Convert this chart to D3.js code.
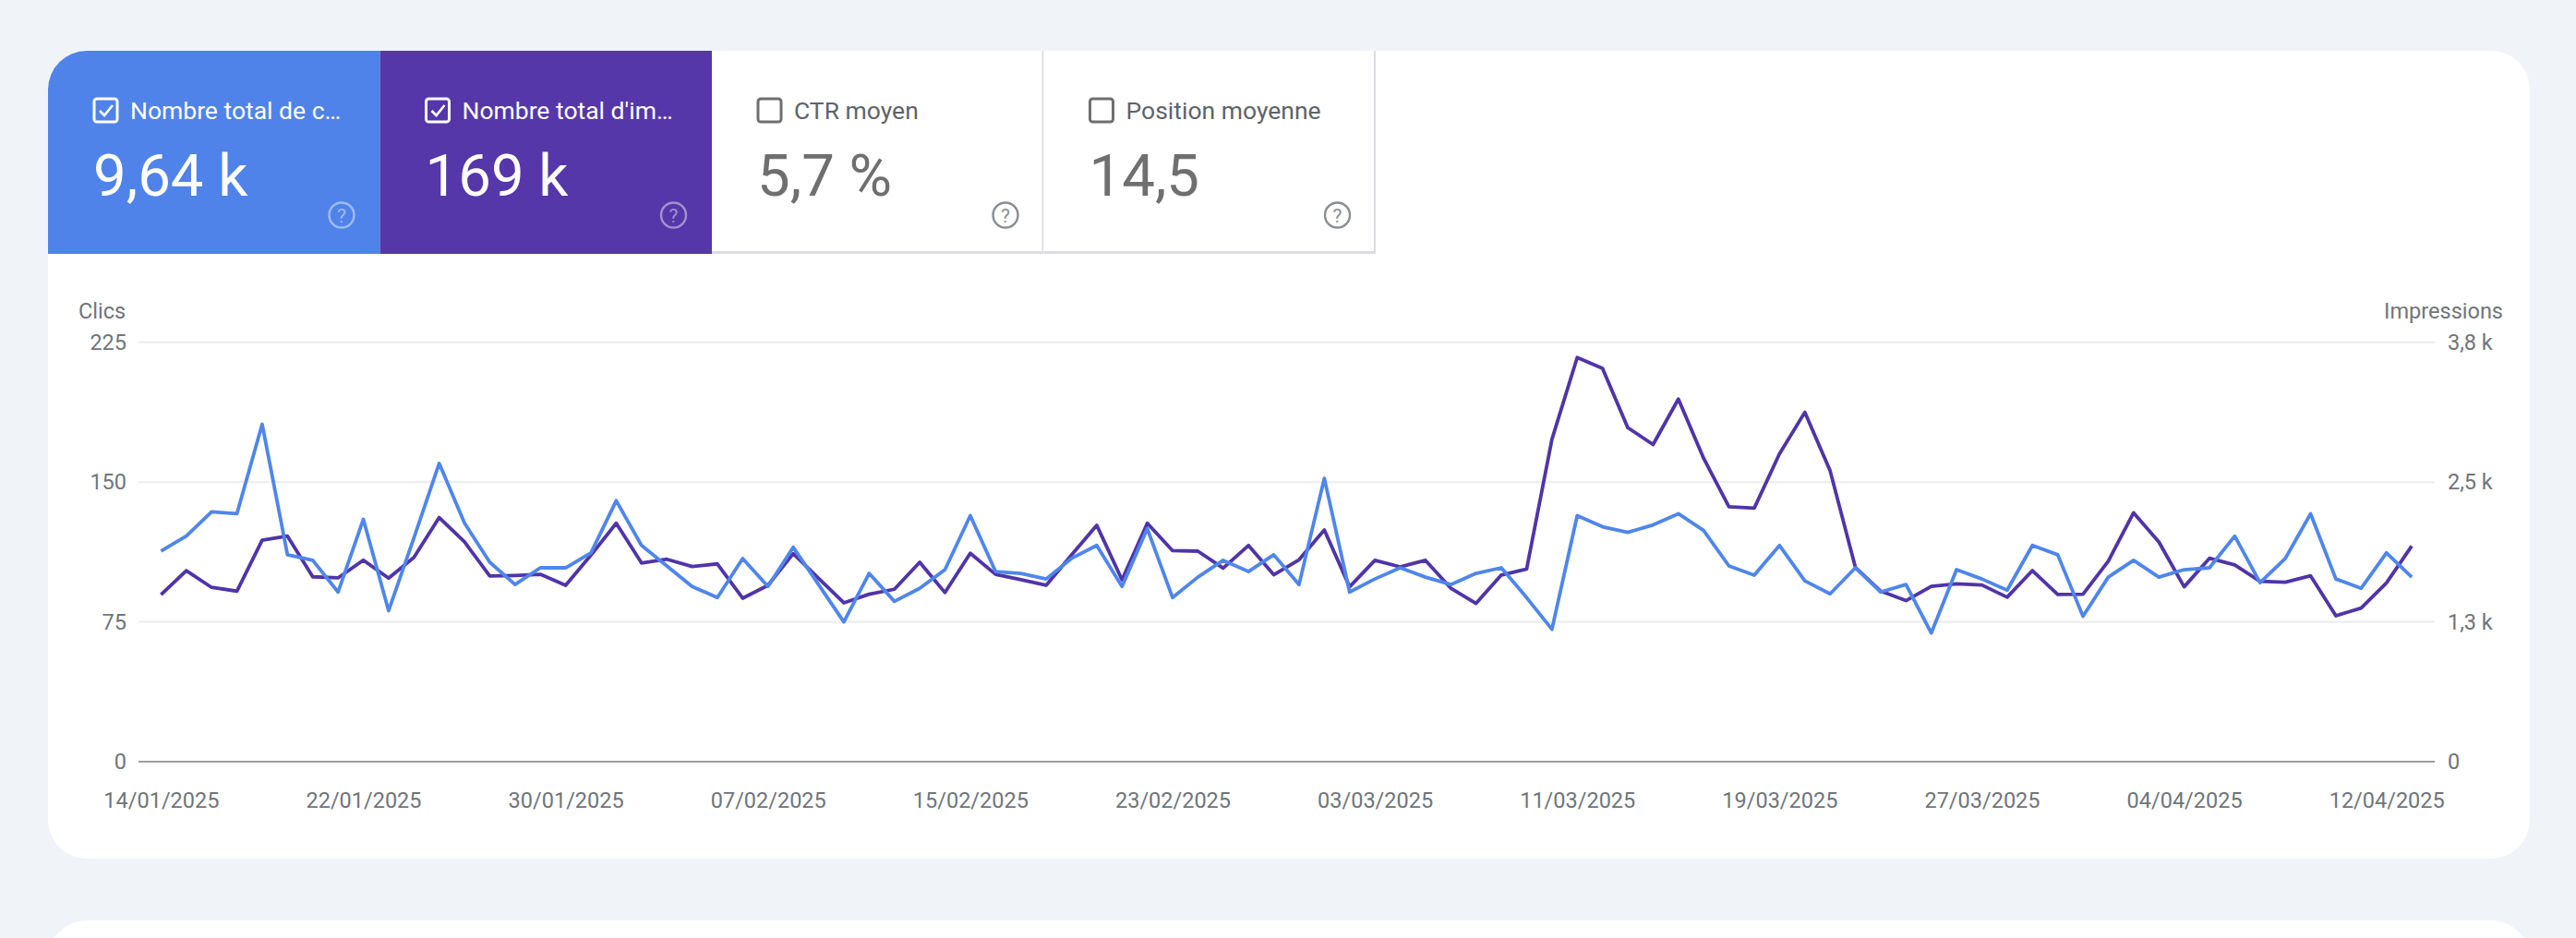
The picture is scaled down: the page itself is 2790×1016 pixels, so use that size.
<!DOCTYPE html>
<html>
<head>
<meta charset="utf-8">
<script src="https://cdn.jsdelivr.net/npm/d3@7"></script>
<style>
  html, body { margin: 0; padding: 0; background: #f0f4f9; }
  svg { display: block; font-family: Roboto, "Noto Sans", sans-serif; }
  .tick text { font-family: Roboto, sans-serif; }
</style>
</head>
<body>
<svg id="chart" width="2790" height="1016"></svg>
<script>
// summary tabs
const tabLabels = ["Nombre total de c…", "Nombre total d'im…", "CTR moyen", "Position moyenne"];
const tabValues = ["9,64 k", "169 k", "5,7 %", "14,5"];
const tabChecked = [true, true, false, false];

// daily series, 14/01/2025 -> 13/04/2025
const clicks = [113,121,134,133,181,111,108,91,130,81,
                120,160,128,107,95,104,104,112,140,116,
                105,94,88,109,94,115,95,75,101,86,
                93,103,132,102,101,98,109,116,94,125,
                88,99,108,102,111,95,152,91,98,104,
                99,95,101,104,88,71,132,126,123,127,
                133,124,105,100,116,97,90,104,91,95,
                69,103,98,92,116,111,78,99,108,99,
                103,104,121,96,109,133,98,93,112,99];
const impressions = [1512,1731,1579,1545,2006,2044,1675,1665,1826,1662,
                     1851,2212,1991,1682,1687,1697,1598,1871,2160,1800,
                     1834,1768,1792,1481,1598,1885,1662,1439,1517,1562,
                     1807,1532,1888,1697,1648,1598,1871,2142,1648,2160,
                     1912,1907,1753,1959,1693,1829,2099,1584,1824,1765,
                     1824,1572,1434,1691,1745,2920,3662,3564,3026,2873,
                     3285,2748,2310,2297,2790,3165,2636,1760,1545,1459,
                     1588,1611,1601,1490,1731,1515,1517,1816,2255,1991,
                     1584,1843,1782,1635,1626,1684,1322,1392,1620,1954];

// axes
const leftTicks = [0, 75, 150, 225];
const rightTicks = [0, 1266.67, 2533.33, 3800];
const rightTickLabels = ["0", "1,3 k", "2,5 k", "3,8 k"];
const xTickLabels = ["14/01/2025","22/01/2025","30/01/2025","07/02/2025","15/02/2025","23/02/2025",
                     "03/03/2025","11/03/2025","19/03/2025","27/03/2025","04/04/2025","12/04/2025"];

const BLUE = "#5083ea", PURPLE = "#5537a9";
const GREY = "#70757a";

const svg = d3.select("#chart");
const parse = d3.utcParse("%d/%m/%Y");
const days = d3.utcDay.range(Date.UTC(2025, 0, 14), Date.UTC(2025, 3, 14));

// card
const card = {x: 52, y: 55, w: 2688, h: 875, r: 42};
svg.append("rect").attr("x", card.x).attr("y", 997).attr("width", card.w).attr("height", 200)
  .attr("rx", card.r).attr("fill", "#fff");
svg.append("defs").append("clipPath").attr("id", "cardClip")
  .append("rect").attr("x", card.x).attr("y", card.y).attr("width", card.w).attr("height", card.h).attr("rx", card.r);
svg.append("rect").attr("x", card.x).attr("y", card.y).attr("width", card.w).attr("height", card.h)
  .attr("rx", card.r).attr("fill", "#fff");

// tabs
const tabW = 359.5, tabH = 220;
const tabs = svg.append("g").attr("clip-path", "url(#cardClip)");
tabLabels.forEach((label, i) => {
  const x0 = card.x + i * tabW;
  const on = tabChecked[i];
  const fill = i === 0 ? BLUE : (i === 1 ? PURPLE : "#fff");
  const fg = on ? "#fff" : "#5f6368";
  const g = tabs.append("g").attr("transform", `translate(${x0},${card.y})`);
  g.append("rect").attr("width", tabW).attr("height", tabH).attr("fill", fill);
  if (!on) {
    g.append("line").attr("x1", tabW - 1).attr("x2", tabW - 1).attr("y1", 0).attr("y2", tabH)
      .attr("stroke", "#dadce0").attr("stroke-width", 2);
    g.append("line").attr("x1", 0).attr("x2", tabW).attr("y1", tabH - 1.5).attr("y2", tabH - 1.5)
      .attr("stroke", "#dadce0").attr("stroke-width", 3);
  }
  // checkbox
  g.append("rect").attr("x", 50).attr("y", 52).attr("width", 25).attr("height", 25).attr("rx", 3)
    .attr("fill", "none").attr("stroke", on ? "#fff" : "#6f6f6f").attr("stroke-width", 3);
  if (on) {
    g.append("path").attr("d", "M56,65 L61,70 L70,59").attr("fill", "none")
      .attr("stroke", "#fff").attr("stroke-width", 2.6);
  }
  g.append("text").attr("x", 89).attr("y", 74).attr("font-size", 26.5).attr("fill", fg).text(label);
  g.append("text").attr("x", 49).attr("y", 157).attr("font-size", 63.5).attr("fill", on ? "#fff" : "#6f6f6f")
    .text(tabValues[i]);
  // help icon
  const hc = on ? "rgba(255,255,255,0.45)" : "#8a8d91";
  g.append("circle").attr("cx", 318).attr("cy", 178).attr("r", 13.5).attr("fill", "none")
    .attr("stroke", hc).attr("stroke-width", 2.4);
  g.append("text").attr("x", 318).attr("y", 186).attr("text-anchor", "middle").attr("font-size", 21)
    .attr("fill", hc).text("?");
});

// plot
const plot = {left: 150, right: 2637, top: 370.7, bottom: 825};
const x = d3.scaleUtc().domain([days[0], days[days.length - 1]])
  .range([174.4, 174.4 + 27.39 * (days.length - 1)]);
const yL = d3.scaleLinear().domain([0, 225]).range([plot.bottom, plot.top]);
const yR = d3.scaleLinear().domain([0, 3800]).range([plot.bottom, plot.top]);

svg.append("g").selectAll("line").data(leftTicks).join("line")
  .attr("x1", plot.left).attr("x2", plot.right)
  .attr("y1", d => yL(d)).attr("y2", d => yL(d))
  .attr("stroke", d => d === 0 ? "#9e9e9e" : "#ececec").attr("stroke-width", 2);

const axisStyle = g => {
  g.select(".domain").remove();
  g.selectAll(".tick line").remove();
  g.selectAll(".tick text").attr("fill", GREY).attr("font-size", 23.5);
};

svg.append("g").attr("transform", `translate(${plot.left},0)`)
  .call(d3.axisLeft(yL).tickValues(leftTicks).tickSize(0).tickPadding(13))
  .call(axisStyle);

svg.append("g").attr("transform", `translate(${plot.right},0)`)
  .call(d3.axisRight(yR).tickValues(rightTicks).tickSize(0).tickPadding(14)
    .tickFormat((d, i) => rightTickLabels[i]))
  .call(axisStyle);

svg.append("g").attr("transform", `translate(0,${plot.bottom})`)
  .call(d3.axisBottom(x).tickValues(xTickLabels.map(parse)).tickSize(0).tickPadding(33)
    .tickFormat((d, i) => xTickLabels[i]))
  .call(axisStyle);

svg.append("text").attr("x", 85).attr("y", 345).attr("font-size", 23.5).attr("fill", GREY).text("Clics");
svg.append("text").attr("x", 2711).attr("y", 345).attr("text-anchor", "end").attr("font-size", 23.5)
  .attr("fill", GREY).text("Impressions");

const lineImp = d3.line().x((d, i) => x(days[i])).y(d => yR(d));
const lineClk = d3.line().x((d, i) => x(days[i])).y(d => yL(d));

svg.append("path").datum(impressions).attr("d", lineImp).attr("fill", "none")
  .attr("stroke", "#5034a8").attr("stroke-width", 3.8).attr("stroke-linejoin", "round");
svg.append("path").datum(clicks).attr("d", lineClk).attr("fill", "none")
  .attr("stroke", "#4f86ec").attr("stroke-width", 3.8).attr("stroke-linejoin", "round");
</script>
</body>
</html>
